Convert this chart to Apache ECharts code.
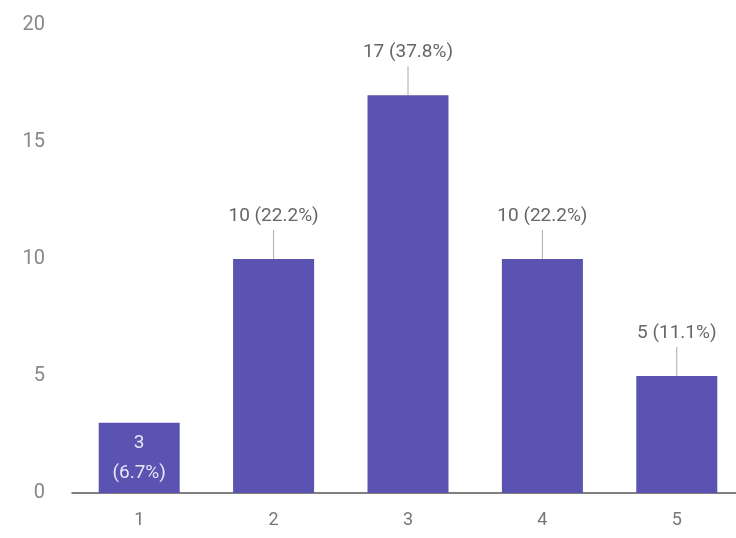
<!DOCTYPE html>
<html><head><meta charset="utf-8">
<script src="https://cdn.jsdelivr.net/npm/echarts@6/dist/echarts.min.js"></script>
<style>html,body{margin:0;padding:0;background:#fff}#c{width:736px;height:538px}</style>
</head><body><div id="c"></div>
<script>
const categories = ['1', '2', '3', '4', '5'];
const counts = [3, 10, 17, 10, 5];
const percents = ['6.7%', '22.2%', '37.8%', '22.2%', '11.1%'];
const yTicks = { min: 0, max: 20, interval: 5 };

const chart = echarts.init(document.getElementById('c'), null, { renderer: 'canvas' });
const barColor = '#5b53b2';
const font = 'Roboto, "Noto Sans", sans-serif';

const barData = counts.map((v, i) => {
  const item = { value: v };
  if (i === 0) {
    item.label = {
      position: 'inside', color: '#e8e6f6',
      formatter: () => v + '\n(' + percents[i] + ')',
      lineHeight: 30
    };
  }
  return item;
});

chart.setOption({
  animation: false,
  grid: { left: 72, width: 672, top: 25, bottom: 45, outerBoundsMode: 'none', containLabel: false },
  xAxis: {
    type: 'category', data: categories,
    axisLine: { lineStyle: { color: '#555', width: 1.5 } },
    axisTick: { show: false },
    axisLabel: { color: '#777', fontSize: 18, fontFamily: font, margin: 18 }
  },
  yAxis: {
    type: 'value', min: yTicks.min, max: yTicks.max, interval: yTicks.interval,
    splitLine: { show: false }, axisLine: { show: false }, axisTick: { show: false },
    axisLabel: { color: '#888', fontSize: 20, fontFamily: font, margin: 27 }
  },
  series: [
    {
      type: 'bar', data: barData, barWidth: 81,
      itemStyle: { color: barColor },
      label: {
        show: true, position: 'top', distance: 33,
        color: '#666', fontSize: 19, fontFamily: font,
        formatter: p => counts[p.dataIndex] + ' (' + percents[p.dataIndex] + ')'
      },
      z: 2
    },
    {
      type: 'custom',
      data: counts.map((v, i) => [i, v]),
      renderItem: (params, api) => {
        if (params.dataIndex === 0) return null;
        const pt = api.coord([api.value(0), api.value(1)]);
        return {
          type: 'line',
          shape: { x1: pt[0], y1: pt[1], x2: pt[0], y2: pt[1] - 29 },
          style: { stroke: '#aaa', lineWidth: 1 }
        };
      },
      z: 1, silent: true
    }
  ]
});
</script></body></html>
